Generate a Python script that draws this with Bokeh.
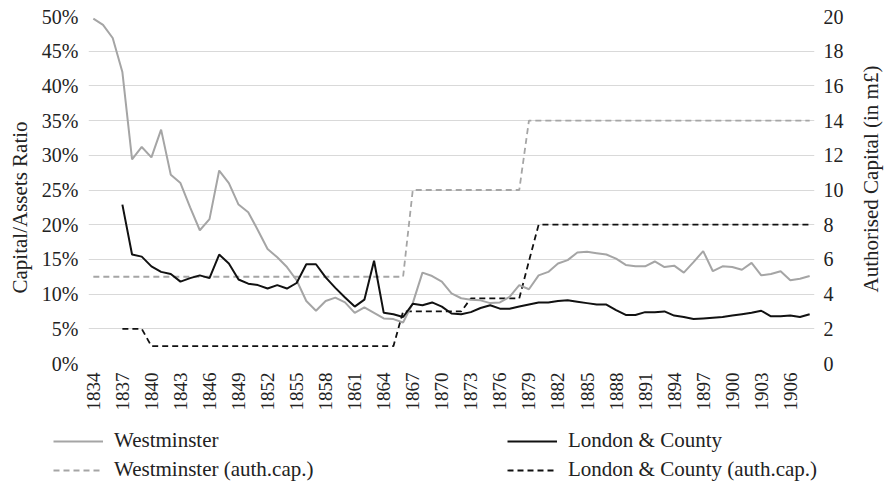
import math
from bokeh.plotting import figure
from bokeh.layouts import column, row
from bokeh.models import (Range1d, LinearAxis, FixedTicker, PrintfTickFormatter,
                          Legend, LegendItem, Title)
from bokeh.embed import file_html
from bokeh.resources import INLINE

# ---------------- data ----------------
years = list(range(1834, 1909))
westminster = [49.7, 48.8, 46.9, 42.0, 29.4, 31.2, 29.7, 33.7, 27.2, 26.0,
               22.5, 19.2, 20.8, 27.8, 26.0, 22.9, 21.8, 19.2, 16.5, 15.3,
               13.9, 12.0, 9.0, 7.6, 9.0, 9.5, 8.8, 7.3, 8.1, 7.3,
               6.5, 6.4, 5.9, 8.7, 13.1, 12.6, 11.8, 10.1, 9.4, 9.2,
               9.1, 8.7, 8.8, 9.6, 11.3, 10.7, 12.7, 13.2, 14.4, 14.9,
               16.0, 16.1, 15.9, 15.7, 15.1, 14.2, 14.0, 14.0, 14.7, 13.9,
               14.1, 13.1, 14.6, 16.2, 13.3, 14.0, 13.9, 13.5, 14.5, 12.7,
               12.9, 13.3, 12.0, 12.2, 12.6]
westminster_cap = [5, 5, 5, 5, 5, 5, 5, 5, 5, 5,
                   5, 5, 5, 5, 5, 5, 5, 5, 5, 5,
                   5, 5, 5, 5, 5, 5, 5, 5, 5, 5,
                   5, 5, 5, 10, 10, 10, 10, 10, 10, 10,
                   10, 10, 10, 10, 10, 14, 14, 14, 14, 14,
                   14, 14, 14, 14, 14, 14, 14, 14, 14, 14,
                   14, 14, 14, 14, 14, 14, 14, 14, 14, 14,
                   14, 14, 14, 14, 14]

lc_years = list(range(1837, 1909))
london_county = [22.9, 15.7, 15.4, 14.0, 13.2, 12.9, 11.8, 12.3, 12.7, 12.3,
                 15.7, 14.4, 12.1, 11.5, 11.3, 10.8, 11.3, 10.8, 11.6, 14.3,
                 14.3, 12.4, 10.9, 9.5, 8.2, 9.2, 14.8, 7.3, 7.1, 6.7,
                 8.6, 8.4, 8.8, 8.2, 7.2, 7.1, 7.4, 8.0, 8.4, 7.9,
                 7.9, 8.2, 8.5, 8.8, 8.8, 9.0, 9.1, 8.9, 8.7, 8.5,
                 8.5, 7.7, 7.0, 7.0, 7.4, 7.4, 7.5, 6.9, 6.7, 6.4,
                 6.5, 6.6, 6.7, 6.9, 7.1, 7.3, 7.6, 6.8, 6.8, 6.9,
                 6.7, 7.1]
london_county_cap = [2, 2, 2, 1, 1, 1, 1, 1, 1, 1,
                     1, 1, 1, 1, 1, 1, 1, 1, 1, 1,
                     1, 1, 1, 1, 1, 1, 1, 1, 1, 3,
                     3, 3, 3, 3, 3, 3, 3.75, 3.75, 3.75, 3.75,
                     3.75, 3.75, 5.9, 8, 8, 8, 8, 8, 8, 8,
                     8, 8, 8, 8, 8, 8, 8, 8, 8, 8,
                     8, 8, 8, 8, 8, 8, 8, 8, 8, 8,
                     8, 8]

x_ticks = list(range(1834, 1907, 3))
pct_ticks = [0, 5, 10, 15, 20, 25, 30, 35, 40, 45, 50]
cap_ticks = [0, 2, 4, 6, 8, 10, 12, 14, 16, 18, 20]

labels = ["Westminster", "London & County",
          "Westminster (auth.cap.)", "London & County (auth.cap.)"]
left_title = "Capital/Assets Ratio"
right_title = "Authorised Capital (in m£)"

# ---------------- styling ----------------
FONT = "Liberation Serif"
GRAY = "#a5a5a5"
BLACK = "#111111"
TXT = "#222222"


def style_axis(ax, size, standoff):
    ax.major_label_text_font = FONT
    ax.major_label_text_font_size = size
    ax.major_label_text_color = TXT
    ax.major_label_standoff = standoff
    ax.major_tick_out = 0
    ax.major_tick_in = 0
    ax.minor_tick_out = 0
    ax.minor_tick_in = 0
    ax.axis_line_color = None
    ax.major_tick_line_color = None
    ax.minor_tick_line_color = None


p = figure(width=857, height=425, output_backend="svg", toolbar_location=None,
           x_range=Range1d(1833.5, 1908.5), y_range=Range1d(0, 50),
           min_border_left=88, min_border_right=43, min_border_top=16,
           min_border_bottom=62)
p.outline_line_color = None
p.background_fill_color = "white"
p.border_fill_color = "white"

p.extra_y_ranges = {"cap": Range1d(0, 20)}

# bottom axis
xa = p.xaxis[0]
xa.ticker = FixedTicker(ticks=x_ticks)
xa.major_label_orientation = math.pi / 2
style_axis(xa, "19px", 9)

# left axis
ya = p.yaxis[0]
ya.ticker = FixedTicker(ticks=pct_ticks)
ya.formatter = PrintfTickFormatter(format="%d%%")
style_axis(ya, "20px", 10)

# right axis
ra = LinearAxis(y_range_name="cap", ticker=FixedTicker(ticks=cap_ticks))
style_axis(ra, "20px", 9)
p.add_layout(ra, "right")

# left title in the left panel, shifted like the reference
p.add_layout(Title(text=left_title, align="left", offset=70,
                   vertical_align="middle", standoff=12,
                   text_font=FONT, text_font_size="21px",
                   text_font_style="normal", text_color=TXT), "left")

p.xgrid.grid_line_color = None
p.ygrid.ticker = FixedTicker(ticks=pct_ticks)
p.ygrid.grid_line_color = "#d9d9d9"
p.ygrid.grid_line_width = 1

# ---------------- lines ----------------
r_wcap = p.line(years, westminster_cap, y_range_name="cap", line_color=GRAY,
                line_width=1.8, line_dash="6 4")
r_lcap = p.line(lc_years, london_county_cap, y_range_name="cap", line_color=BLACK,
                line_width=1.8, line_dash="6 4")
r_w = p.line(years, westminster, line_color=GRAY, line_width=2)
r_l = p.line(lc_years, london_county, line_color=BLACK, line_width=2)

# ---------------- right title strip ----------------
rt = figure(width=28, height=425, output_backend="svg", toolbar_location=None,
            x_range=Range1d(0, 1), y_range=Range1d(0, 1),
            x_axis_type=None, y_axis_type=None, min_border_left=0,
            min_border_right=0, min_border_top=16, min_border_bottom=62)
rt.outline_line_color = None
rt.grid.visible = False
rt.add_layout(Title(text=right_title, align="left", offset=71,
                    vertical_align="middle", standoff=0,
                    text_font=FONT, text_font_size="21px",
                    text_font_style="normal", text_color=TXT), "left")

# ---------------- legend strip ----------------
q = figure(width=885, height=60, output_backend="svg", toolbar_location=None,
           x_range=Range1d(0, 1), y_range=Range1d(0, 1),
           x_axis_type=None, y_axis_type=None, min_border=0)
q.outline_line_color = None
q.grid.visible = False
q_w = q.line([0], [0], line_color=GRAY, line_width=2)
q_l = q.line([0], [0], line_color=BLACK, line_width=2)
q_wcap = q.line([0], [0], line_color=GRAY, line_width=1.8, line_dash="6 4")
q_lcap = q.line([0], [0], line_color=BLACK, line_width=1.8, line_dash="6 4")

legend = Legend(items=[LegendItem(label=labels[0], renderers=[q_w]),
                       LegendItem(label=labels[2], renderers=[q_wcap]),
                       LegendItem(label=labels[1], renderers=[q_l]),
                       LegendItem(label=labels[3], renderers=[q_lcap])],
                ncols=2, location=(53, 3), padding=0, margin=0,
                spacing=4, glyph_width=50, glyph_height=20,
                label_standoff=11, label_width=389, label_height=20,
                label_text_font=FONT, label_text_font_size="21px",
                label_text_color=TXT, border_line_color=None,
                background_fill_alpha=0)
q.add_layout(legend)

layout = column(row(p, rt, spacing=0), q, spacing=0)
open("out.html", "w").write(file_html(layout, INLINE))
